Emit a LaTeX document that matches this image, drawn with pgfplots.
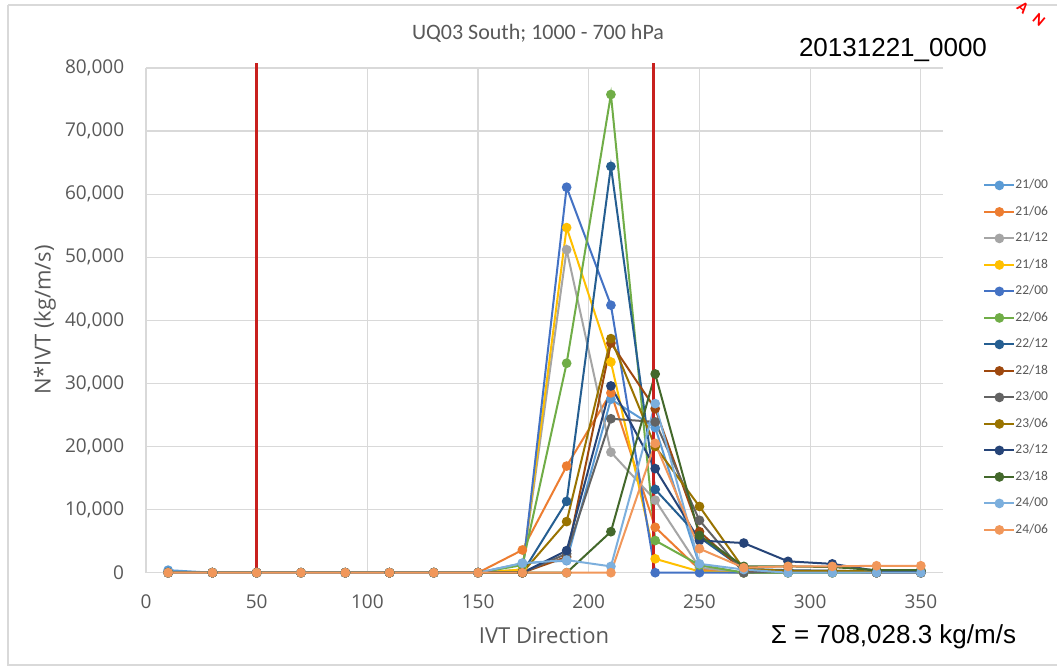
\documentclass[border=0pt]{standalone}
\usepackage{pgfplots}
\usepackage{pgfplotstable}
\pgfplotsset{compat=1.18}
\usepackage{fontspec}
\setmainfont{Carlito}
\newfontfamily\tickfont{Open Sans}
\newfontfamily\arialfont{Liberation Sans}
\definecolor{gridc}{HTML}{D9D9D9}
\definecolor{tickc}{HTML}{595959}
\definecolor{redl}{HTML}{C8201E}
\definecolor{c2100}{HTML}{5B9BD5}
\definecolor{c2106}{HTML}{ED7D31}
\definecolor{c2112}{HTML}{A5A5A5}
\definecolor{c2118}{HTML}{FFC000}
\definecolor{c2200}{HTML}{4472C4}
\definecolor{c2206}{HTML}{70AD47}
\definecolor{c2212}{HTML}{255E91}
\definecolor{c2218}{HTML}{9E480E}
\definecolor{c2300}{HTML}{636363}
\definecolor{c2306}{HTML}{997300}
\definecolor{c2312}{HTML}{264478}
\definecolor{c2318}{HTML}{43682B}
\definecolor{c2400}{HTML}{7CAFDD}
\definecolor{c2406}{HTML}{F1975A}

\pgfplotstableread{
x    a     b     c     d     e     f     g     h     i     j     k     l     m     n
10   400   0     0     0     0     0     0     0     0     0     0     0     0     0
30   0     0     0     0     0     0     0     0     0     0     0     0     0     0
50   0     0     0     0     0     0     0     0     0     0     0     0     0     0
70   0     0     0     0     0     0     0     0     0     0     0     0     0     0
90   0     0     0     0     0     0     0     0     0     0     0     0     0     0
110  0     0     0     0     0     0     0     0     0     0     0     0     0     0
130  0     0     0     0     0     0     0     0     0     0     0     0     0     0
150  0     0     0     0     0     0     0     0     0     0     0     0     0     0
170  1500  3600  500   500   0     1200  0     0     0     0     0     0     1500  0
190  1900  16900 51200 54700 61100 33200 11300 2500  3000  8100  3500  0     2000  0
210  27500 28500 19100 33400 42400 75800 64400 36400 24400 37100 29600 6500  1000  0
230  23000 7200  11500 2200  0     5100  13200 26000 23900 20000 16500 31500 26800 20500
250  1200  500   800   200   0     1200  5600  6500  8300  10500 5100  5900  1400  3800
270  0     0     0     0     0     0     600   300   0     600   4700  1000  500   800
290  0     0     0     0     0     0     400   200   300   300   1800  1000  0     1000
310  0     0     0     0     0     0     300   200   300   300   1400  900   0     1000
330  0     0     0     0     0     0     0     0     200   200   300   400   0     1100
350  0     0     0     0     0     0     0     0     200   200   200   400   0     1100
}\datatable

\begin{document}
\begin{tikzpicture}
\useasboundingbox (0bp,0bp) rectangle (528.5bp,333.5bp);
\fill[white] (0bp,0bp) rectangle (528.5bp,333.5bp);
\draw[gridc, line width=0.6bp] (4bp,331bp) -- (528.5bp,331bp);
\draw[gridc, line width=0.6bp] (4bp,331bp) -- (4bp,1bp) -- (528.5bp,1bp);
\begin{axis}[
  at={(73bp,47.15bp)}, anchor=south west,
  scale only axis, width=398.5bp, height=252.35bp,
  xmin=0, xmax=360, ymin=0, ymax=80000,
  xtick={0,50,...,350}, ytick={0,10000,...,80000},
  grid=major, major grid style={color=gridc, line width=0.6bp},
  axis line style={draw=none}, major tick length=0pt,
  scaled y ticks=false, scaled x ticks=false,
  /pgf/number format/assume math mode=true,
  yticklabel style={/pgf/number format/fixed, /pgf/number format/1000 sep={,}, anchor=east, inner sep=0pt, xshift=-10.75bp},
  xticklabel style={anchor=center, inner sep=0pt, yshift=-14.65bp},
  tick label style={font=\tickfont\fontsize{9.5bp}{11bp}\selectfont, text=tickc},
  clip=false,
  every axis plot/.append style={line width=1bp, mark=*, mark size=1.9bp},
  legend style={at={(1.0502,0.781)}, anchor=north west, draw=none, fill=none, inner sep=0pt,
    font=\fontsize{6.75bp}{8bp}\selectfont, text=tickc, row sep=6.75bp,
    nodes={inner sep=0pt, text height=5bp, text depth=1.5bp},
    /tikz/every even column/.append style={column sep=2.5bp}},
  legend cell align=left,
  legend image code/.code={\draw[mark repeat=2,mark phase=2,#1] plot coordinates {(0bp,0bp) (7.5bp,0bp) (15bp,0bp)};},
]
\addplot[c2100, mark options={fill=c2100}] table[x=x,y=a] {\datatable};
\addlegendentry{21/00}
\addplot[c2106, mark options={fill=c2106}] table[x=x,y=b] {\datatable};
\addlegendentry{21/06}
\addplot[c2112, mark options={fill=c2112}] table[x=x,y=c] {\datatable};
\addlegendentry{21/12}
\addplot[c2118, mark options={fill=c2118}] table[x=x,y=d] {\datatable};
\addlegendentry{21/18}
\addplot[c2200, mark options={fill=c2200}] table[x=x,y=e] {\datatable};
\addlegendentry{22/00}
\addplot[c2206, mark options={fill=c2206}] table[x=x,y=f] {\datatable};
\addlegendentry{22/06}
\addplot[c2212, mark options={fill=c2212}] table[x=x,y=g] {\datatable};
\addlegendentry{22/12}
\addplot[c2218, mark options={fill=c2218}] table[x=x,y=h] {\datatable};
\addlegendentry{22/18}
\addplot[c2300, mark options={fill=c2300}] table[x=x,y=i] {\datatable};
\addlegendentry{23/00}
\addplot[c2306, mark options={fill=c2306}] table[x=x,y=j] {\datatable};
\addlegendentry{23/06}
\addplot[c2312, mark options={fill=c2312}] table[x=x,y=k] {\datatable};
\addlegendentry{23/12}
\addplot[c2318, mark options={fill=c2318}] table[x=x,y=l] {\datatable};
\addlegendentry{23/18}
\addplot[c2400, mark options={fill=c2400}] table[x=x,y=m] {\datatable};
\addlegendentry{24/00}
\addplot[c2406, mark options={fill=c2406}] table[x=x,y=n] {\datatable};
\addlegendentry{24/06}
\addplot[redl, line width=1.5bp, no marks, forget plot] coordinates {(50,0) (50,80800)};
\addplot[redl, line width=1.5bp, no marks, forget plot] coordinates {(229.3,0) (229.3,80800)};
\end{axis}
\node[font=\fontsize{11bp}{13bp}\selectfont, text=tickc] at (269bp,317bp) {UQ03 South; 1000 - 700 hPa};
\node[font=\arialfont\fontsize{13bp}{15bp}\selectfont] at (446.5bp,308.5bp) {20131221\_0000};
\node[font=\arialfont\fontsize{13bp}{15bp}\selectfont] at (446.75bp,15bp) {Σ = 708,028.3 kg/m/s};
\node[font=\tickfont\fontsize{11bp}{13bp}\selectfont, text=tickc] at (272bp,15.5bp) {IVT Direction};
\node[font=\tickfont\fontsize{11bp}{13bp}\selectfont, text=tickc, rotate=90] at (22.5bp,173.5bp) {N*IVT (kg/m/s)};
\node[font=\bfseries\fontsize{8bp}{9bp}\selectfont, text=red, rotate=-40, inner sep=0pt] at (511.5bp,329.5bp) {A};
\node[font=\bfseries\fontsize{8bp}{9bp}\selectfont, text=red, rotate=-40, inner sep=0pt] at (519.5bp,323.5bp) {N};
\end{tikzpicture}
\end{document}
